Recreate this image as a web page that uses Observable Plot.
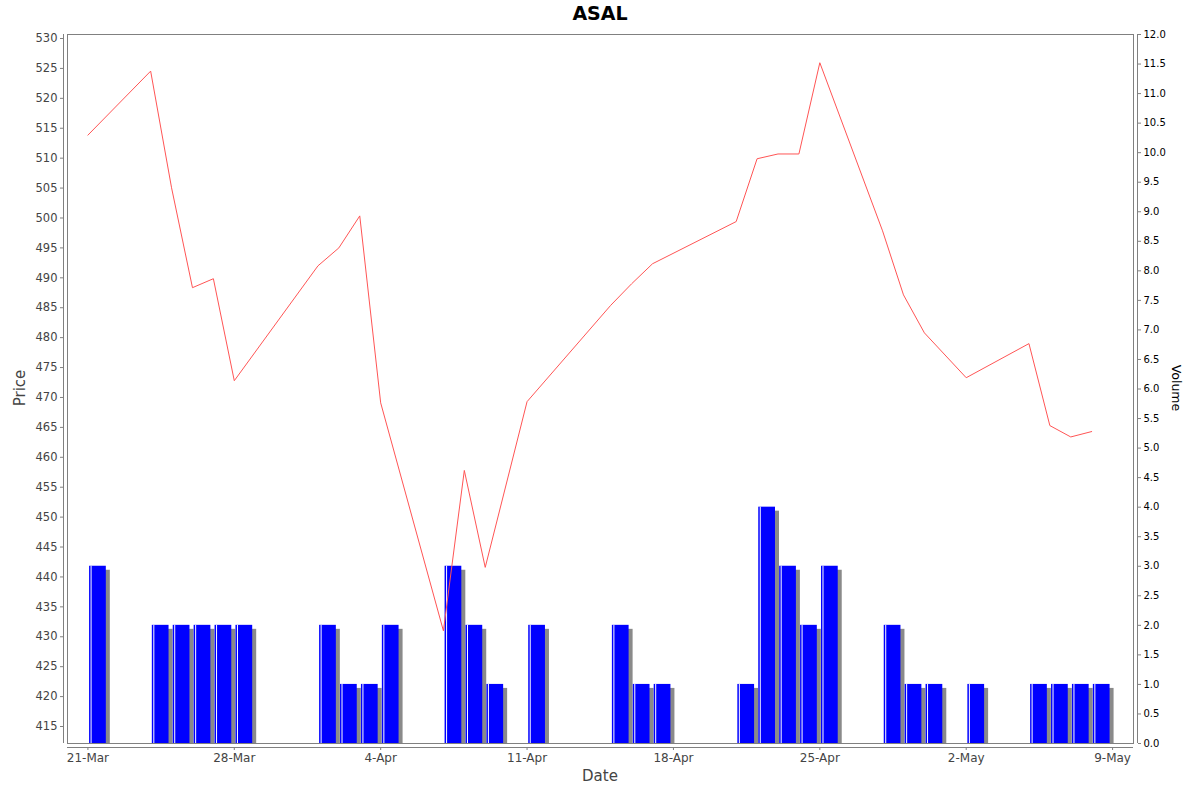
<!DOCTYPE html>
<html><head><meta charset="utf-8">
<script src="https://cdn.jsdelivr.net/npm/d3@7"></script>
<script src="https://cdn.jsdelivr.net/npm/@observablehq/plot@0.6"></script>
<style>
body{margin:0;background:#fff;}
#wrap{position:relative;width:1200px;height:792px;font-family:"DejaVu Sans",sans-serif;overflow:hidden;}
#wrap svg{position:absolute;left:0;top:0;}
.lbl{position:absolute;white-space:nowrap;line-height:1;}
</style></head><body>
<div id="wrap">
  <div class="lbl" style="left:600px;top:13px;transform:translate(-50%,-50%);font-size:19px;font-weight:bold;color:#000;">ASAL</div>
  <div class="lbl" style="left:20px;top:388px;transform:translate(-50%,-50%) rotate(-90deg);font-size:15px;color:#444;">Price</div>
  <div class="lbl" style="left:1176px;top:388px;transform:translate(-50%,-50%) rotate(90deg);font-size:12.5px;color:#000;">Volume</div>
  <div class="lbl" style="left:600px;top:776px;transform:translate(-50%,-50%);font-size:15px;color:#444;">Date</div>
</div>
<script>
const dates = ["2021-03-21","2021-03-24","2021-03-25","2021-03-26","2021-03-27","2021-03-28",
  "2021-04-01","2021-04-02","2021-04-03","2021-04-04","2021-04-07","2021-04-08","2021-04-09",
  "2021-04-11","2021-04-15","2021-04-16","2021-04-17","2021-04-21","2021-04-22","2021-04-23",
  "2021-04-24","2021-04-25","2021-04-28","2021-04-29","2021-04-30","2021-05-02","2021-05-05",
  "2021-05-06","2021-05-07","2021-05-08"];
const prices = [513.85,524.55,505.05,488.35,489.85,472.8,
  492.0,495.0,500.35,469.1,431.0,457.8,441.6,
  469.3,485.4,489.0,492.35,499.4,509.9,510.7,
  510.7,525.95,497.85,487.15,480.8,473.3,479.0,
  465.3,463.4,464.3];
const volumes = [3,2,2,2,2,2,
  2,1,1,2,3,2,1,
  2,2,1,1,1,4,3,
  2,3,2,1,1,1,1,
  1,1,1];
const priceTicks = d3.range(415, 531, 5);
const volumeTicks = d3.range(0, 25).map(i => i * 0.5);
const dateTicks = ["2021-03-21","2021-03-28","2021-04-04","2021-04-11","2021-04-18","2021-04-25","2021-05-02","2021-05-09"];

const DAY = 864e5;
const parse = s => new Date(s + "T00:00:00Z");
const rows = dates.map((d, i) => ({date: parse(d), price: prices[i], volume: volumes[i]}));
const x0 = parse(dates[0]);
const xDomain = [new Date(+x0 - 0.976 * DAY), new Date(+x0 + 50.0 * DAY)];
const priceDomain = [412.16, 530.67];
const W = 1200, H = 792, mt = 34, mb = 49, ml = 67, mr = 67;
const fmt = d3.utcFormat("%-d-%b");
const bx1 = d => new Date(+d.date + 0.08 * DAY);
const bx2 = d => new Date(+d.date + 0.88 * DAY);

const volPlot = Plot.plot({
  width: W, height: H, marginTop: mt, marginBottom: mb, marginLeft: ml, marginRight: mr,
  style: {fontFamily: "DejaVu Sans", fontSize: "10px", background: "transparent", overflow: "visible", color: "#000"},
  x: {type: "utc", domain: xDomain, axis: null},
  y: {domain: [0, 12], axis: null},
  marks: [
    Plot.rect(rows, {x1: bx1, x2: bx2, y1: 0, y2: "volume", fill: "#8a8a8a", dx: 4, dy: 4, clip: true}),
    Plot.rect(rows, {x1: bx1, x2: bx2, y1: 0, y2: "volume", fill: "#0000ff"}),
    Plot.ruleX(rows, {x: bx1, y1: 0, y2: "volume", stroke: "#ffffff", dx: 1.5, strokeWidth: 1}),
    Plot.ruleX([xDomain[1]], {dx: 4, stroke: "#808080"}),
    Plot.axisY(volumeTicks, {anchor: "right", dx: 4, tickSize: 3, tickPadding: 3, tickFormat: d => d.toFixed(1), stroke: "#808080", fill: "#000", label: null, fontSize: 10})
  ]
});

const pricePlot = Plot.plot({
  width: W, height: H, marginTop: mt, marginBottom: mb, marginLeft: ml, marginRight: mr,
  style: {fontFamily: "DejaVu Sans", fontSize: "11.5px", background: "transparent", overflow: "visible", color: "#444"},
  x: {type: "utc", domain: xDomain, axis: null},
  y: {domain: priceDomain, axis: null},
  marks: [
    Plot.frame({stroke: "#808080"}),
    Plot.line(rows, {x: "date", y: "price", stroke: "#ff5555", strokeWidth: 1}),
    Plot.ruleX([xDomain[0]], {dx: -4, stroke: "#808080"}),
    Plot.axisY(priceTicks, {anchor: "left", dx: -4, tickSize: 3, tickPadding: 3, stroke: "#808080", fill: "#444", label: null, fontSize: 11.5}),
    Plot.ruleY([priceDomain[0]], {dy: 4, stroke: "#808080"}),
    Plot.axisX(dateTicks.map(parse), {anchor: "bottom", dy: 4, tickSize: 3, tickPadding: 3, tickFormat: fmt, stroke: "#808080", fill: "#444", label: null, fontSize: 12})
  ]
});

const wrap = document.getElementById("wrap");
wrap.insertBefore(volPlot, wrap.firstChild);
wrap.insertBefore(pricePlot, volPlot.nextSibling);
</script>
</body></html>
